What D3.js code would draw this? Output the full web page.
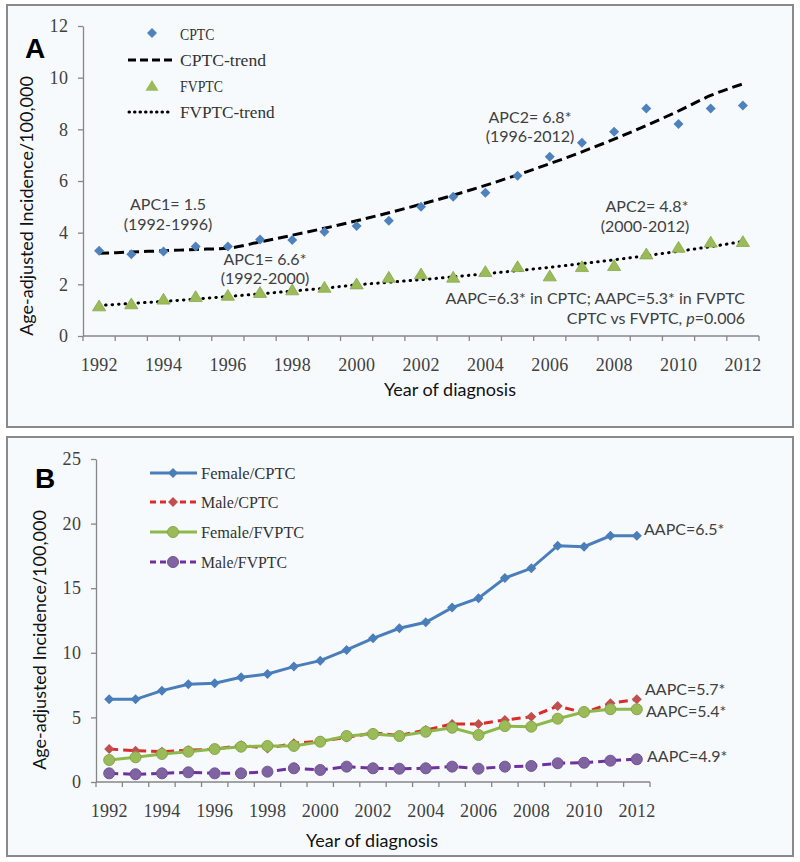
<!DOCTYPE html>
<html><head><meta charset="utf-8">
<script src="https://cdn.jsdelivr.net/npm/d3@7"></script>
<style>body{margin:0;background:#fff}</style>
</head><body><svg id="c" width="800" height="862"></svg>
<script>
// ---------- data ----------
const years = [1992,1993,1994,1995,1996,1997,1998,1999,2000,2001,2002,2003,2004,2005,2006,2007,2008,2009,2010,2011,2012];
const xTickLabels = [1992,1994,1996,1998,2000,2002,2004,2006,2008,2010,2012];

// Panel A
const cptc       = [3.30,3.16,3.27,3.46,3.46,3.74,3.72,4.04,4.26,4.46,5.00,5.39,5.55,6.20,6.94,7.48,7.91,8.81,8.21,8.81,8.92];
const cptcTrend  = [3.20,3.25,3.30,3.35,3.40,3.64,3.90,4.17,4.46,4.77,5.10,5.45,5.83,6.24,6.67,7.13,7.62,8.15,8.71,9.31,9.76];
const fvptc      = [1.16,1.24,1.42,1.52,1.57,1.68,1.78,1.88,2.01,2.27,2.40,2.27,2.49,2.68,2.32,2.68,2.72,3.17,3.43,3.63,3.65];
const fvptcTrend = [1.18,1.26,1.34,1.43,1.53,1.63,1.74,1.85,1.98,2.08,2.18,2.29,2.41,2.53,2.66,2.80,2.95,3.11,3.28,3.46,3.66];
const yTicksA = [0,2,4,6,8,10,12];

// Panel B
const femaleCPTC  = [6.40,6.40,7.07,7.56,7.64,8.10,8.36,8.93,9.39,10.22,11.12,11.90,12.36,13.50,14.22,15.79,16.54,18.29,18.21,19.06,19.06];
const maleCPTC    = [2.55,2.42,2.35,2.45,2.55,2.84,2.60,3.00,3.17,3.45,3.80,3.60,4.02,4.49,4.49,4.80,5.05,5.88,5.36,6.09,6.40];
const femaleFVPTC = [1.70,1.91,2.17,2.35,2.55,2.73,2.79,2.79,3.12,3.56,3.72,3.56,3.89,4.20,3.64,4.33,4.28,4.90,5.42,5.63,5.63];
const maleFVPTC   = [0.67,0.60,0.67,0.75,0.67,0.67,0.80,1.06,0.93,1.19,1.06,1.03,1.06,1.19,1.03,1.19,1.24,1.45,1.49,1.65,1.76];
const yTicksB = [0,5,10,15,20,25];

// ---------- drawing ----------
const svg = d3.select('#c');
const AX = '#868686';
const SERIF = '"Liberation Serif", "DejaVu Serif", serif';
const SANS = 'Lato, "Open Sans", sans-serif';
const diamond = r => `M0,${-r}L${r},0L0,${r}L${-r},0Z`;
const triangle = r => `M0,${-r}L${r*1.1},${r*0.8}L${-r*1.1},${r*0.8}Z`;

function panel(y, h){
  svg.append('rect').attr('x',7).attr('y',y).attr('width',786).attr('height',h)
    .attr('fill','#F7FAFD').attr('stroke','#8a8a8a').attr('stroke-width',2);
}
function axes(x, y, yTicks, charW){
  const g = svg.append('g');
  const x0 = x.range()[0], x1 = x.range()[1], y0 = y(0);
  const ya = g.append('g').attr('transform',`translate(${x0},0)`)
    .call(d3.axisLeft(y).tickValues(yTicks).tickSize(5).tickSizeOuter(0).tickPadding(10));
  ya.select('.domain').attr('stroke',AX).attr('stroke-width',1.3);
  ya.selectAll('.tick line').attr('stroke',AX).attr('stroke-width',1.3);
  ya.selectAll('text').attr('font-family',SERIF).attr('font-size',18).attr('fill','#404040')
    .attr('textLength',d=>String(d).length*charW).attr('lengthAdjust','spacing');
  g.append('line').attr('x1',x0).attr('x2',x1).attr('y1',y0).attr('y2',y0)
    .attr('stroke',AX).attr('stroke-width',1.3);
  const bounds = years.map(d=>x(d)).concat([x(years[years.length-1])+x.bandwidth()]);
  g.selectAll('.xt').data(bounds).join('line')
    .attr('x1',d=>d).attr('x2',d=>d).attr('y1',y0).attr('y2',y0+5)
    .attr('stroke',AX).attr('stroke-width',1.3);
  g.selectAll('.xl').data(xTickLabels).join('text')
    .attr('x',d=>x(d)+x.bandwidth()/2).attr('y',y0+35)
    .attr('text-anchor','middle').attr('font-family',SERIF).attr('font-size',18).attr('fill','#404040')
    .attr('textLength',d=>String(d).length*charW).attr('lengthAdjust','spacing')
    .text(d=>d);
}
function txt(x, y, s, anchor, size, fill, fam, weight){
  return svg.append('text').attr('x',x).attr('y',y).attr('text-anchor',anchor||'start')
    .attr('font-size',size||16).attr('fill',fill||'#404040').attr('font-family',fam||SANS)
    .attr('font-weight',weight||'normal').text(s);
}
function monoTxt(x,y,s){
  return svg.append('text').attr('x',x).attr('y',y).attr('font-family',SERIF).attr('font-size',17)
    .attr('fill','#333').attr('textLength',s.length*8.6).attr('lengthAdjust','spacingAndGlyphs').text(s);
}

// ===== Panel A =====
panel(5, 422);
const xA = d3.scaleBand().domain(years).range([83,759]).padding(0);
const yA = d3.scaleLinear().domain([0,12]).range([336,26]);
const cxA = d => xA(d)+xA.bandwidth()/2;
axes(xA, yA, yTicksA, 9.2);

const lineA = arr => d3.line().x((d,i)=>cxA(years[i])).y(d=>yA(d)).curve(d3.curveMonotoneX)(arr);
svg.append('path').attr('d',lineA(cptcTrend)).attr('fill','none').attr('stroke','#000')
  .attr('stroke-width',3).attr('stroke-dasharray','10,5');
svg.append('path').attr('d',lineA(fvptcTrend)).attr('fill','none').attr('stroke','#000')
  .attr('stroke-width',3).attr('stroke-dasharray','0.5,6').attr('stroke-linecap','round');

svg.selectAll('.cp').data(cptc).join('path')
  .attr('transform',(d,i)=>`translate(${cxA(years[i])},${yA(d)})`)
  .attr('d',diamond(5)).attr('fill','#4F81BD');
svg.selectAll('.fv').data(fvptc).join('path')
  .attr('transform',(d,i)=>`translate(${cxA(years[i])},${yA(d)})`)
  .attr('d',triangle(6)).attr('fill','#9BBB59').attr('stroke','#8AA64F').attr('stroke-width',0.8);

// legend A
svg.append('path').attr('transform','translate(152,33)').attr('d',diamond(5)).attr('fill','#4F81BD');
monoTxt(180,40,'CPTC');
svg.append('line').attr('x1',128).attr('x2',176).attr('y1',60).attr('y2',60).attr('stroke','#000')
  .attr('stroke-width',3).attr('stroke-dasharray','8,4');
monoTxt(180,66,'CPTC-trend');
svg.append('path').attr('transform','translate(152,86)').attr('d',triangle(6)).attr('fill','#9BBB59');
monoTxt(180,92,'FVPTC');
svg.append('line').attr('x1',129).attr('x2',172).attr('y1',112).attr('y2',112).attr('stroke','#000')
  .attr('stroke-width',3).attr('stroke-dasharray','0.5,5').attr('stroke-linecap','round');
monoTxt(180,118,'FVPTC-trend');

// annotations A
txt(25,58,'A','start',28,'#000','"Liberation Sans", Arial, sans-serif','bold');
txt(168,210,'APC1= 1.5','middle');
txt(168,230,'(1992-1996)','middle');
txt(265,265,'APC1= 6.6*','middle');
txt(265,284,'(1992-2000)','middle');
txt(530,123,'APC2= 6.8*','middle');
txt(530,142,'(1996-2012)','middle');
txt(647,212,'APC2= 4.8*','middle');
txt(645,232,'(2000-2012)','middle');
txt(745,304,'AAPC=6.3* in CPTC; AAPC=5.3* in FVPTC','end');
const pt = txt(745,324,'','end');
pt.append('tspan').text('CPTC vs FVPTC, ');
pt.append('tspan').attr('font-style','italic').text('p');
pt.append('tspan').text('=0.006');
txt(450,396,'Year of diagnosis','middle',18,'#111');
txt(0,0,'Age-adjusted Incidence/100,000','middle',18,'#111').attr('transform','translate(33,206) rotate(-90)');

// ===== Panel B =====
panel(437, 419);
const xB = d3.scaleBand().domain(years).range([96,650]).padding(0);
const yB = d3.scaleLinear().domain([0,25]).range([782,459]);
const cxB = d => xB(d)+xB.bandwidth()/2;
axes(xB, yB, yTicksB, 9.2);

const seriesB = [
  {name:'Female/CPTC', vals:femaleCPTC, line:'#4A7EBB', mk:'#4A7EBB', dash:null, shape:'d'},
  {name:'Male/CPTC', vals:maleCPTC, line:'#DD2A2A', mk:'#C0504D', dash:'9,5', shape:'d'},
  {name:'Female/FVPTC', vals:femaleFVPTC, line:'#8DB84A', mk:'#9BBB59', dash:null, shape:'c'},
  {name:'Male/FVPTC', vals:maleFVPTC, line:'#7030A0', mk:'#8064A2', dash:'9,5', shape:'c'}
];
const drawOrder = [1,3,0,2];
drawOrder.forEach(k=>{
  const s = seriesB[k];
  const ln = d3.line().x((d,i)=>cxB(years[i])).y(d=>yB(d));
  svg.append('path').attr('d',ln(s.vals)).attr('fill','none').attr('stroke',s.line)
    .attr('stroke-width',3).attr('stroke-dasharray',s.dash);
  const g = svg.append('g');
  s.vals.forEach((v,i)=>{
    if(s.shape==='d'){
      g.append('path').attr('transform',`translate(${cxB(years[i])},${yB(v)})`).attr('d',diamond(5)).attr('fill',s.mk);
    } else {
      g.append('circle').attr('cx',cxB(years[i])).attr('cy',yB(v)).attr('r',5.5).attr('fill',s.mk)
        .attr('stroke', k===2?'#86A64B':'#6F5591').attr('stroke-width',1);
    }
  });
});

// legend B
const legY = [473,502,532,562];
seriesB.forEach((s,k)=>{
  const y = legY[k];
  svg.append('line').attr('x1',150).attr('x2',197).attr('y1',y).attr('y2',y).attr('stroke',s.line)
    .attr('stroke-width',3).attr('stroke-dasharray',s.dash ? '6,4' : null);
  if(s.shape==='d') svg.append('path').attr('transform',`translate(173,${y})`).attr('d',diamond(5)).attr('fill',s.mk);
  else svg.append('circle').attr('cx',173).attr('cy',y).attr('r',5.5).attr('fill',s.mk)
        .attr('stroke', k===2?'#86A64B':'#6F5591').attr('stroke-width',1);
  monoTxt(201,y+6,s.name);
});

txt(35,488,'B','start',28,'#000','"Liberation Sans", Arial, sans-serif','bold');
txt(644,535,'AAPC=6.5*');
txt(645,695,'AAPC=5.7*');
txt(646,717,'AAPC=5.4*');
txt(647,762,'AAPC=4.9*');
txt(372,847,'Year of diagnosis','middle',18,'#111');
txt(0,0,'Age-adjusted Incidence/100,000','middle',18,'#111').attr('transform','translate(46,640) rotate(-90)');
</script>
</body></html>
